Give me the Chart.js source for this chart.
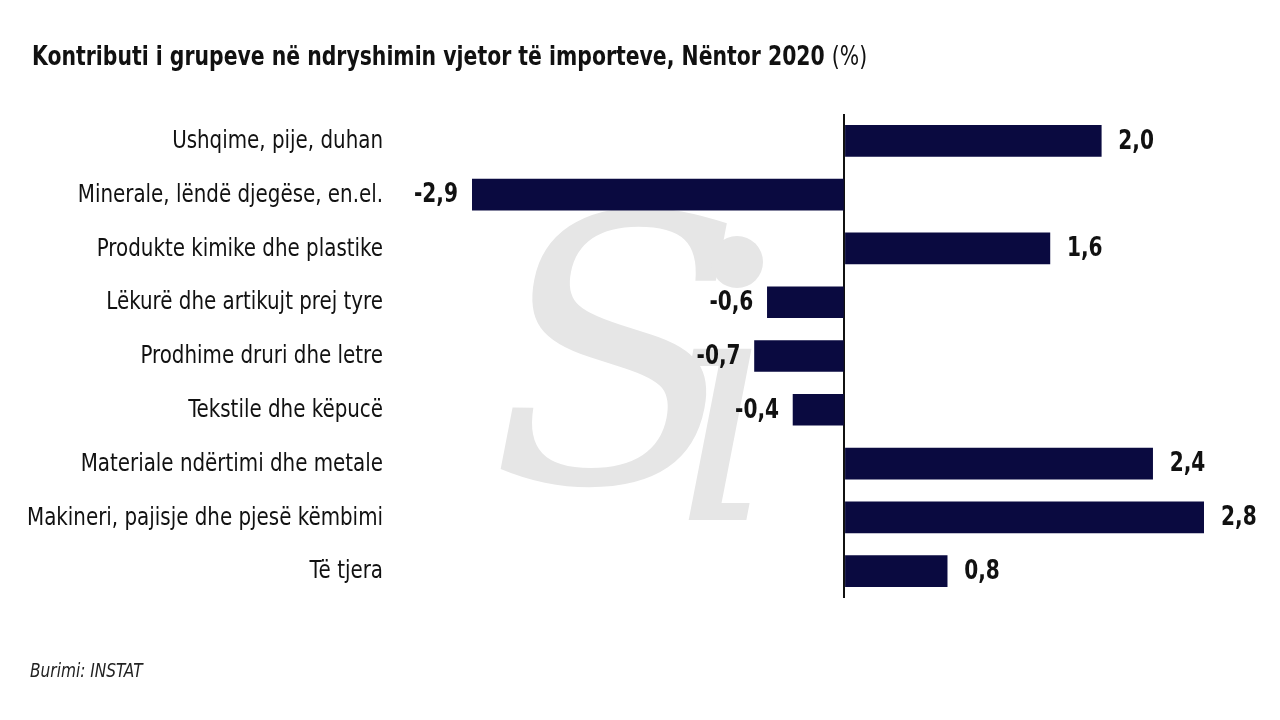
<!DOCTYPE html>
<html>
<head>
<meta charset="utf-8">
<script src="https://cdn.jsdelivr.net/npm/chart.js@4.4.1/dist/chart.umd.min.js"></script>
<style>
  html, body { margin: 0; padding: 0; background: #fff; }
  #wrap { position: relative; width: 1280px; height: 720px; }
  #title {
    position: absolute; left: 32px; top: 40px;
    font-family: 'DejaVu Sans Condensed', 'Liberation Sans Narrow', sans-serif;
    font-size: 27px; font-weight: bold; color: #111; white-space: nowrap;
    transform: scaleX(0.84); transform-origin: 0 0;
  }
  #title span { font-weight: normal; }
  #source {
    position: absolute; left: 30px; top: 659px;
    font-family: 'DejaVu Sans Condensed', sans-serif;
    font-size: 19px; font-style: italic; color: #222;
    transform: scaleX(0.9); transform-origin: 0 0;
  }
</style>
</head>
<body>
<div id="wrap">
  <canvas id="chart" width="1280" height="720"></canvas>
  <div id="title">Kontributi i grupeve në ndryshimin vjetor të importeve, Nëntor 2020 <span>(%)</span></div>
  <div id="source">Burimi: INSTAT</div>
</div>
<script>
// Data
const categories = [
  'Ushqime, pije, duhan',
  'Minerale, lëndë djegëse, en.el.',
  'Produkte kimike dhe plastike',
  'Lëkurë dhe artikujt prej tyre',
  'Prodhime druri dhe letre',
  'Tekstile dhe këpucë',
  'Materiale ndërtimi dhe metale',
  'Makineri, pajisje dhe pjesë këmbimi',
  'Të tjera'
];
const values = [2.0, -2.9, 1.6, -0.6, -0.7, -0.4, 2.4, 2.8, 0.8];

const FONT = "'DejaVu Sans Condensed', 'Liberation Sans Narrow', sans-serif";
const BAR_COLOR = '#0a0a40';

// draw text squeezed horizontally (condensed look)
function squeezedText(ctx, txt, x, y, align, sx) {
  ctx.save();
  ctx.translate(x, y);
  ctx.scale(sx, 1);
  ctx.textAlign = align;
  ctx.fillText(txt, 0, 0);
  ctx.restore();
}

// Faint "Si" watermark behind the bars
const watermark = {
  id: 'watermark',
  beforeDatasetsDraw(chart) {
    const ctx = chart.ctx;
    ctx.save();
    ctx.fillStyle = '#e6e6e6';
    ctx.font = "italic 370px 'DejaVu Serif', 'Liberation Serif', serif";
    ctx.textBaseline = 'alphabetic';
    ctx.fillText('S', 490, 482);
    ctx.font = "italic 330px 'DejaVu Serif', 'Liberation Serif', serif";
    ctx.fillText('ı', 665, 520);
    ctx.beginPath();
    ctx.arc(737, 262, 26, 0, Math.PI * 2);
    ctx.fill();
    ctx.restore();
  }
};

// Category labels and value labels
const labelsPlugin = {
  id: 'labelsPlugin',
  afterDatasetsDraw(chart) {
    const ctx = chart.ctx;
    const meta = chart.getDatasetMeta(0);
    const yScale = chart.scales.y;
    ctx.save();
    ctx.fillStyle = '#111';
    ctx.textBaseline = 'middle';
    ctx.font = '24px ' + FONT;
    categories.forEach((c, i) => {
      squeezedText(ctx, c, 383, yScale.getPixelForValue(i) + 1, 'right', 0.92);
    });
    ctx.font = 'bold 26px ' + FONT;
    meta.data.forEach((bar, i) => {
      const v = values[i];
      const txt = v.toFixed(1).replace('.', ',');
      if (v >= 0) {
        squeezedText(ctx, txt, bar.x + 17, bar.y + 1, 'left', 0.86);
      } else {
        squeezedText(ctx, txt, bar.x - 14, bar.y + 1, 'right', 0.86);
      }
    });
    ctx.restore();
  }
};

new Chart(document.getElementById('chart'), {
  type: 'bar',
  data: {
    labels: categories,
    datasets: [{
      data: values,
      backgroundColor: BAR_COLOR,
      borderWidth: 0,
      barThickness: 31
    }]
  },
  options: {
    indexAxis: 'y',
    responsive: false,
    animation: false,
    layout: { padding: { top: 114, bottom: 122, left: 0, right: 76 } },
    plugins: {
      legend: { display: false },
      tooltip: { enabled: false }
    },
    scales: {
      x: {
        min: -2.9,
        max: 2.8,
        ticks: { display: false, stepSize: 1 },
        border: { display: false },
        grid: {
          drawTicks: false,
          lineWidth: ctx => (ctx.tick && ctx.tick.value === 0 ? 2 : 0),
          color: ctx => (ctx.tick && ctx.tick.value === 0 ? '#111' : 'rgba(0,0,0,0)')
        }
      },
      y: {
        afterFit: s => { s.width = 472; },
        border: { display: false },
        grid: { display: false, drawTicks: false },
        ticks: { display: false }
      }
    }
  },
  plugins: [watermark, labelsPlugin]
});
</script>
</body>
</html>
